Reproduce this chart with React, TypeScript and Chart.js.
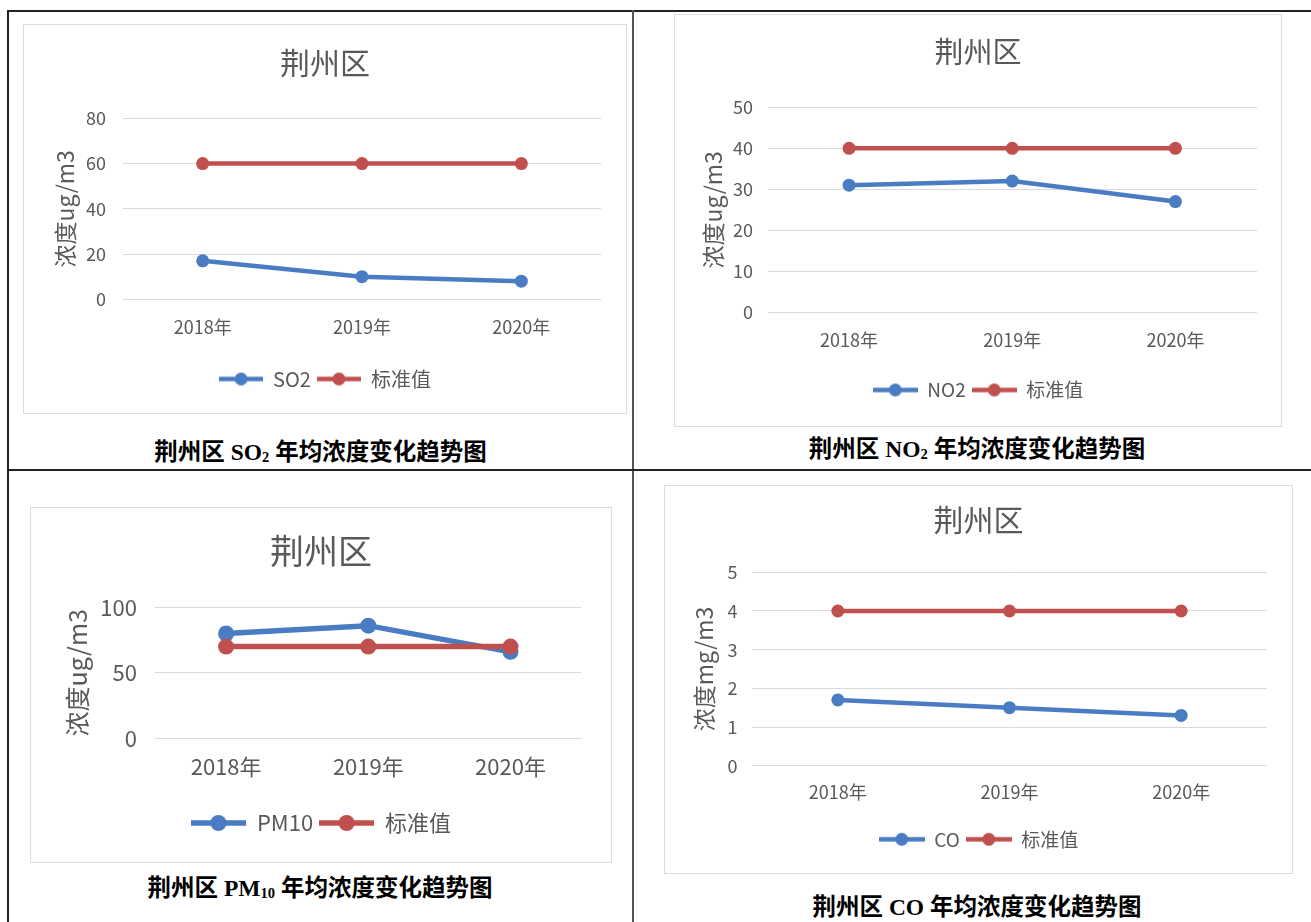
import React, { useEffect, useRef } from 'react';
import { Chart, registerables } from 'chart.js';

Chart.register(...registerables);

// ---------- data ----------
const categories = ['2018年', '2019年', '2020年'];
const regionTitle = '荆州区';
const standardLabel = '标准值';
const ugAxisTitle = '浓度ug/m3';
const mgAxisTitle = '浓度mg/m3';

const so2Label = 'SO2';
const so2Values = [17, 10, 8];
const so2Standard = [60, 60, 60];
const so2Ticks = [0, 20, 40, 60, 80];

const no2Label = 'NO2';
const no2Values = [31, 32, 27];
const no2Standard = [40, 40, 40];
const no2Ticks = [0, 10, 20, 30, 40, 50];

const pm10Label = 'PM10';
const pm10Values = [80, 86, 66];
const pm10Standard = [70, 70, 70];
const pm10Ticks = [0, 50, 100];

const coLabel = 'CO';
const coValues = [1.7, 1.5, 1.3];
const coStandard = [4, 4, 4];
const coTicks = [0, 1, 2, 3, 4, 5];

// ---------- styles ----------
const BLUE = '#4A7CC3';
const RED = '#C0504D';
const TEXT = '#595959';
const GRID = '#D9D9D9';
const FONT = '"Noto Sans CJK SC", "Noto Sans", sans-serif';

Chart.defaults.font.family = FONT;

type Spec = {
  box: [number, number, number, number];
  plot: [number, number, number, number];
  titleY: number;
  titleSize: number;
  yLabelRight: number;
  tickSize: number;
  xLabelY: number;
  axisTitleX: number;
  axisTitleSize: number;
  legendY: number;
  legendSize: number;
  legendGap: number;
  markerW: number;
  lineWidth: number;
  pointRadius: number;
};

const so2Spec: Spec = {
  box: [24, 25, 602, 388], plot: [123, 118.3, 601, 299.3],
  titleY: 63, titleSize: 30, yLabelRight: 106, tickSize: 18, xLabelY: 327,
  axisTitleX: 65, axisTitleSize: 23, legendY: 379, legendSize: 20, legendGap: 6,
  markerW: 44, lineWidth: 4.5, pointRadius: 6.5,
};
const no2Spec: Spec = {
  box: [675, 15, 606, 411], plot: [767.5, 107.3, 1257, 312.3],
  titleY: 52, titleSize: 29, yLabelRight: 753, tickSize: 18, xLabelY: 340,
  axisTitleX: 713, axisTitleSize: 23, legendY: 390, legendSize: 19, legendGap: 6,
  markerW: 45, lineWidth: 4.5, pointRadius: 6.5,
};
const pm10Spec: Spec = {
  box: [31, 508, 580, 354], plot: [155, 607.3, 581.6, 738.3],
  titleY: 551, titleSize: 34, yLabelRight: 137, tickSize: 22, xLabelY: 767,
  axisTitleX: 77.5, axisTitleSize: 25, legendY: 823, legendSize: 22, legendGap: 6,
  markerW: 55, lineWidth: 5.5, pointRadius: 8,
};
const coSpec: Spec = {
  box: [665, 486, 627, 387], plot: [752, 572.3, 1267, 765.7],
  titleY: 520, titleSize: 30, yLabelRight: 737.6, tickSize: 18, xLabelY: 791.7,
  axisTitleX: 704, axisTitleSize: 23, legendY: 839.3, legendSize: 19, legendGap: 6,
  markerW: 46, lineWidth: 4.5, pointRadius: 6.5,
};

function makeMarker(color: string, w: number, lw: number, r: number): HTMLCanvasElement {
  const c = document.createElement('canvas');
  const h = Math.ceil(r * 2 + 4);
  c.width = w;
  c.height = h;
  const ctx = c.getContext('2d')!;
  ctx.strokeStyle = color;
  ctx.fillStyle = color;
  ctx.lineWidth = lw;
  ctx.beginPath();
  ctx.moveTo(0, h / 2);
  ctx.lineTo(w, h / 2);
  ctx.stroke();
  ctx.beginPath();
  ctx.arc(w / 2, h / 2, r, 0, Math.PI * 2);
  ctx.fill();
  return c;
}

type PanelProps = {
  spec: Spec;
  seriesLabel: string;
  values: number[];
  standard: number[];
  ticks: number[];
  axisTitle: string;
};

function Panel({ spec, seriesLabel, values, standard, ticks, axisTitle }: PanelProps) {
  const ref = useRef<HTMLCanvasElement | null>(null);
  const [bx, by, W, H] = spec.box;

  useEffect(() => {
    if (!ref.current) return;
    const [pl, pt, pr, pb] = spec.plot;
    const L = pl - bx;
    const T = pt - by;
    const R = pr - bx;
    const B = pb - by;
    const padSide = W - R; // symmetric side padding keeps title & legend centred on the box
    const titlePadTop = spec.titleY - by - 0.6 * spec.titleSize;
    const titlePadBottom = T - titlePadTop - 1.2 * spec.titleSize;
    const yTickPad = pl - spec.yLabelRight;
    const axisTitlePad = Math.max(0, spec.axisTitleX - bx - padSide - 0.6 * spec.axisTitleSize);
    const xTickPad = spec.xLabelY - pb - 0.6 * spec.tickSize;
    const padBottom = H - 10 - spec.legendSize / 2 - (spec.legendY - by);
    const legendH = spec.legendSize + spec.legendGap + 10;
    const xHeight = H - padBottom - legendH - B;
    const yWidth = L - padSide;

    const colors = [BLUE, RED];
    const markers = colors.map((c) => makeMarker(c, spec.markerW, spec.lineWidth, spec.pointRadius));

    const chart = new Chart(ref.current, {
      type: 'line',
      data: {
        labels: categories,
        datasets: [
          {
            label: seriesLabel,
            data: values,
            borderColor: BLUE,
            backgroundColor: BLUE,
            borderWidth: spec.lineWidth,
            pointRadius: spec.pointRadius,
            pointBackgroundColor: BLUE,
            pointBorderColor: BLUE,
            pointBorderWidth: 0,
            tension: 0,
            order: 1,
          },
          {
            label: standardLabel,
            data: standard,
            borderColor: RED,
            backgroundColor: RED,
            borderWidth: spec.lineWidth,
            pointRadius: spec.pointRadius,
            pointBackgroundColor: RED,
            pointBorderColor: RED,
            pointBorderWidth: 0,
            tension: 0,
            order: 0,
          },
        ],
      },
      options: {
        responsive: false,
        animation: false,
        events: [],
        layout: { padding: { left: padSide, top: 0, right: padSide, bottom: padBottom } },
        plugins: {
          tooltip: { enabled: false },
          title: {
            display: true,
            text: regionTitle,
            color: TEXT,
            font: { size: spec.titleSize, weight: 'normal', family: FONT },
            padding: { top: titlePadTop, bottom: titlePadBottom },
          },
          legend: {
            display: true,
            position: 'bottom',
            labels: {
              usePointStyle: true,
              pointStyleWidth: spec.markerW,
              padding: spec.legendGap,
              color: TEXT,
              font: { size: spec.legendSize, family: FONT },
              generateLabels: (c: any) =>
                c.data.datasets.map((ds: any, i: number) => ({
                  text: ds.label,
                  pointStyle: markers[i],
                  fillStyle: colors[i],
                  strokeStyle: colors[i],
                  lineWidth: 0,
                  hidden: false,
                  datasetIndex: i,
                  fontColor: TEXT,
                })),
            },
          },
        },
        scales: {
          x: {
            type: 'category',
            offset: true,
            grid: { display: false, drawTicks: false },
            border: { display: false },
            ticks: {
              color: TEXT,
              font: { size: spec.tickSize, family: FONT },
              padding: xTickPad,
              maxRotation: 0,
              autoSkip: false,
            },
            afterFit: (s: any) => {
              s.height = xHeight;
            },
          },
          y: {
            type: 'linear',
            min: ticks[0],
            max: ticks[ticks.length - 1],
            ticks: {
              stepSize: ticks[1] - ticks[0],
              color: TEXT,
              font: { size: spec.tickSize, family: FONT },
              padding: yTickPad,
            },
            grid: { color: GRID, lineWidth: 1, drawTicks: false },
            border: { display: false },
            title: {
              display: true,
              text: axisTitle,
              color: TEXT,
              font: { size: spec.axisTitleSize, family: FONT },
              padding: { top: axisTitlePad, bottom: 0 },
            },
            afterFit: (s: any) => {
              s.width = yWidth;
            },
          },
        },
      } as any,
    });
    return () => chart.destroy();
  }, []);

  return (
    <div
      style={{
        position: 'absolute',
        left: bx - 1,
        top: by - 1,
        width: W,
        height: H,
        border: '1px solid #DCDCDC',
        background: '#fff',
      }}
    >
      <canvas ref={ref} width={W} height={H} style={{ display: 'block', width: W, height: H }} />
    </div>
  );
}

type CaptionProps = { cx: number; cy: number; pre: string; main: string; sub: string; post: string };

function Caption({ cx, cy, pre, main, sub, post }: CaptionProps) {
  return (
    <div
      style={{
        position: 'absolute',
        left: cx - 320,
        top: cy - 15,
        width: 640,
        height: 30,
        lineHeight: '30px',
        textAlign: 'center',
        fontFamily: '"Liberation Serif", "Noto Sans CJK SC", serif',
        fontWeight: 'bold',
        fontSize: 23.5,
        color: '#000',
        whiteSpace: 'nowrap',
      }}
    >
      {pre}
      {main}
      {sub ? (
        <span style={{ fontSize: '0.62em', position: 'relative', top: '0.15em' }}>{sub}</span>
      ) : null}
      {post}
    </div>
  );
}

export default function App() {
  const line = (l: number, t: number, w: number, h: number, c: string) => (
    <div style={{ position: 'absolute', left: l, top: t, width: w, height: h, background: c }} />
  );
  return (
    <div
      style={{
        position: 'absolute',
        left: 0,
        top: 0,
        width: 1311,
        height: 922,
        overflow: 'hidden',
        background: '#fff',
      }}
    >
      {line(7, 10, 1304, 2, '#222')}
      {line(7, 10, 2, 912, '#222')}
      {line(632, 10, 2, 912, '#555')}
      {line(7, 469, 1304, 2, '#222')}

      <Panel spec={so2Spec} seriesLabel={so2Label} values={so2Values} standard={so2Standard} ticks={so2Ticks} axisTitle={ugAxisTitle} />
      <Panel spec={no2Spec} seriesLabel={no2Label} values={no2Values} standard={no2Standard} ticks={no2Ticks} axisTitle={ugAxisTitle} />
      <Panel spec={pm10Spec} seriesLabel={pm10Label} values={pm10Values} standard={pm10Standard} ticks={pm10Ticks} axisTitle={ugAxisTitle} />
      <Panel spec={coSpec} seriesLabel={coLabel} values={coValues} standard={coStandard} ticks={coTicks} axisTitle={mgAxisTitle} />

      <Caption cx={320.5} cy={451.5} pre="荆州区 " main="SO" sub="2" post=" 年均浓度变化趋势图" />
      <Caption cx={977} cy={448.5} pre="荆州区 " main="NO" sub="2" post=" 年均浓度变化趋势图" />
      <Caption cx={320} cy={888} pre="荆州区 " main="PM" sub="10" post=" 年均浓度变化趋势图" />
      <Caption cx={977} cy={907} pre="荆州区 " main="CO" sub="" post=" 年均浓度变化趋势图" />
    </div>
  );
}
